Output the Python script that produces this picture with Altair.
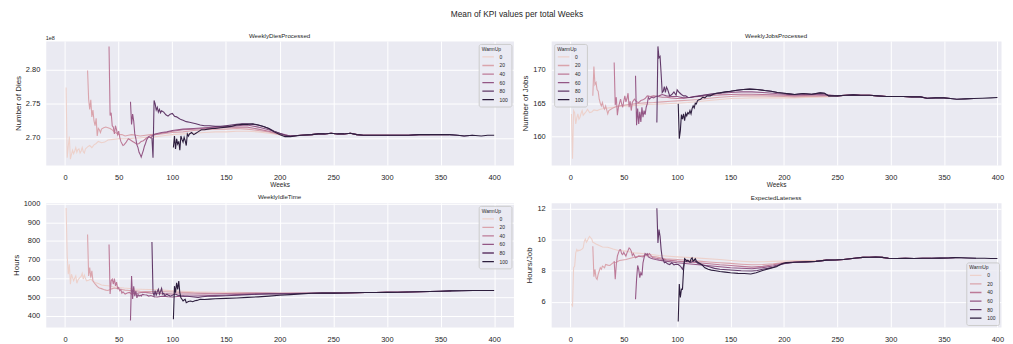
import altair as alt
import pandas as pd

WARMUPS = [0, 20, 40, 60, 80, 100]
PALETTE = ["#edd1cb", "#daa4ac", "#bd7a98", "#935685", "#613969", "#2d1e3e"]
X_TICKS = [0, 50, 100, 150, 200, 250, 300, 350, 400]
RUN_LENGTH = 300  # weeks observed after the warm-up

# ---------------- WeeklyDiesProcessed (x 1e8) ----------------
DIES_W0 = [(1,2.774),(2,2.671),(3,2.688),(4,2.702),(5,2.669),(6,2.676),(7,2.682),(8,2.677),(9,2.681),(10,2.686),
           (11,2.679),(12,2.683),(13,2.684),(14,2.678),(15,2.681),(16,2.686),(17,2.680),(18,2.678),(19,2.684),(21,2.687),
           (23,2.689),(25,2.686),(27,2.690),(29,2.692),(31,2.695),(34,2.693),(37,2.694),(40,2.697),(45,2.698),(50,2.699),
           (55,2.699),(60,2.699),(65,2.700),(70,2.700),(75,2.701),(80,2.701),(85,2.702),(90,2.703),(95,2.704),(100,2.705),
           (110,2.706),(120,2.707),(130,2.708),(140,2.709),(150,2.709),(160,2.710),(170,2.710),(180,2.709),(190,2.707),
           (200,2.705),(210,2.703),(220,2.704)]
DIES_W20 = [(21,2.799),(22,2.757),(23,2.742),(24,2.756),(25,2.731),(26,2.741),(27,2.725),(28,2.718),(29,2.729),(30,2.703),
            (31,2.714),(32,2.712),(33,2.708),(34,2.713),(36,2.715),(38,2.716),(40,2.715),(42,2.714),(44,2.712),(46,2.709),
            (48,2.707),(50,2.705),(53,2.705),(56,2.703),(59,2.704),(62,2.705),(66,2.704),(70,2.703),(75,2.704),(80,2.705),
            (90,2.706),(100,2.708),(110,2.709),(120,2.711),(130,2.712),(140,2.713),(150,2.713),(160,2.714),(170,2.713),
            (180,2.711),(190,2.709),(200,2.705),(210,2.703),(220,2.704)]
DIES_W40 = [(41,2.834),(42,2.733),(43,2.737),(44,2.718),(45,2.716),(46,2.706),(47,2.718),(48,2.712),(49,2.705),(50,2.710),
            (51,2.701),(52,2.695),(53,2.692),(54,2.689),(55,2.690),(57,2.694),(59,2.699),(61,2.697),(63,2.695),(65,2.693),
            (67,2.691),(69,2.692),(71,2.695),(73,2.696),(76,2.700),(79,2.703),(84,2.705),(90,2.707),(100,2.710),(110,2.712),
            (120,2.713),(130,2.714),(140,2.715),(150,2.716),(160,2.716),(170,2.716),(180,2.713),(190,2.710),(200,2.706),
            (210,2.703),(220,2.704)]
DIES_W60 = [(61,2.753),(62,2.720),(63,2.735),(64,2.725),(65,2.706),(66,2.699),(67,2.690),(68,2.686),(69,2.679),(70,2.676),
            (71,2.672),(72,2.677),(73,2.682),(74,2.688),(75,2.692),(76,2.697),(78,2.702),(80,2.700),(82,2.704),(84,2.706),
            (87,2.707),(90,2.708),(95,2.709),(100,2.711),(110,2.713),(120,2.714),(130,2.715),(140,2.716),(150,2.717),
            (160,2.718),(170,2.719),(180,2.716),(190,2.712),(200,2.707),(210,2.703),(220,2.704)]
DIES_W80 = [(81,2.700),(82,2.671),(83,2.755),(84,2.750),(85,2.741),(86,2.745),(87,2.738),(88,2.742),(89,2.737),(90,2.740),
            (92,2.738),(94,2.734),(96,2.732),(98,2.735),(100,2.736),(102,2.732),(104,2.731),(106,2.729),(108,2.727),(110,2.726),
            (113,2.724),(116,2.723),(119,2.722),(122,2.721),(126,2.719),(130,2.718),(135,2.718),(140,2.717),(145,2.717),
            (150,2.718),(155,2.719),(160,2.720),(165,2.721),(170,2.721),(175,2.720),(180,2.719),(185,2.717),(190,2.714),
            (195,2.710),(200,2.707),(205,2.704),(210,2.703),(220,2.704)]
DIES_W100 = [(101,2.686),(102,2.703),(103,2.684),(104,2.699),(105,2.691),(106,2.695),(107,2.682),(108,2.703),(109,2.698),
             (110,2.694),(111,2.701),(112,2.696),(113,2.689),(114,2.706),(115,2.703),(116,2.706),(118,2.708),(120,2.705),
             (122,2.707),(124,2.709),(127,2.712),(130,2.712),(133,2.713),(137,2.714),(140,2.714),(145,2.715),(150,2.716),
             (155,2.717),(160,2.719),(165,2.720),(170,2.720),(175,2.721),(180,2.719),(185,2.717),(190,2.714),(195,2.709),
             (200,2.705),(205,2.702),(210,2.702),(220,2.704)]
DIES_TAIL = [(230,2.705),(236,2.706),(242,2.706),(248,2.707),(254,2.706),(260,2.706),(266,2.707),(272,2.705),(278,2.704),
             (286,2.704),(294,2.704),(300,2.704),(310,2.704),(320,2.704),(330,2.705),(340,2.705),(350,2.705),(358,2.705),
             (366,2.704),(372,2.703),(380,2.704),(388,2.703),(394,2.704),(400,2.704)]

# ---------------- WeeklyJobsProcessed ----------------
JOBS_W0 = [(1,163.4),(2,156.7),(3,163.9),(4,163.6),(5,161.9),(6,162.8),(7,163.4),(8,162.6),(9,162.9),(10,163.5),
           (11,163.9),(12,163.2),(13,163.4),(15,163.8),(16,164.1),(18,163.6),(20,163.7),(22,164.0),(25,163.9),(28,164.1),
           (32,164.2),(36,164.3),(40,164.4),(45,164.5),(50,164.6),(56,164.6),(63,164.7),(70,164.8),(78,164.85),(86,164.9),
           (94,164.95),(100,165.0),(110,165.1),(120,165.25),(130,165.4),(140,165.55),(150,165.7),(160,165.75),(170,165.8),
           (180,165.8),(190,165.8),(200,165.8),(210,165.8),(220,165.85),(230,165.9),(240,165.95)]
JOBS_W20 = [(21,166.1),(22,170.5),(23,167.8),(24,168.1),(25,167.0),(26,166.8),(27,165.6),(28,165.0),(29,164.6),(30,165.1),
            (31,164.4),(32,164.1),(33,164.6),(34,164.0),(35,163.4),(36,163.9),(38,164.1),(40,164.3),(43,164.5),(46,164.6),
            (50,164.7),(55,164.8),(60,164.9),(65,165.0),(70,165.05),(78,165.1),(86,165.2),(94,165.3),(100,165.35),(110,165.45),
            (120,165.55),(130,165.75),(140,165.9),(150,166.0),(160,166.1),(170,166.1),(180,166.1),(190,166.05),(200,166.0),
            (210,165.95),(220,166.0),(230,166.0),(240,166.05)]
JOBS_W40 = [(41,171.1),(42,164.7),(43,165.9),(44,163.2),(45,164.4),(46,165.0),(47,165.6),(48,164.9),(49,164.4),(50,165.3),
            (51,166.1),(52,165.2),(53,165.7),(54,166.5),(55,164.4),(56,165.3),(57,163.9),(58,165.1),(59,165.4),(60,165.6),
            (62,165.2),(64,165.1),(66,165.4),(68,165.5),(70,165.7),(72,166.1),(75,166.0),(78,166.1),(82,166.0),(86,165.9),
            (90,165.9),(94,165.8),(100,165.7),(106,165.75),(112,165.85),(120,166.0),(130,166.15),(140,166.25),(150,166.3),
            (160,166.35),(170,166.35),(180,166.3),(190,166.25),(200,166.2),(210,166.1),(220,166.15),(230,166.2),(240,166.2)]
JOBS_W60 = [(61,169.1),(62,161.7),(63,164.2),(64,161.9),(65,163.7),(66,162.2),(67,164.4),(68,162.9),(69,163.9),(70,163.3),
            (71,164.4),(72,164.9),(73,165.9),(74,165.6),(76,165.9),(78,165.8),(80,166.0),(83,166.1),(86,166.3),(90,166.1),
            (95,166.0),(100,166.0),(106,165.8),(112,165.9),(120,166.1),(130,166.3),(140,166.5),(150,166.6),(160,166.7),
            (170,166.7),(180,166.6),(190,166.5),(200,166.35),(210,166.25),(220,166.3),(230,166.3),(240,166.25)]
JOBS_W80 = [(81,162.1),(82,173.5),(83,171.8),(84,172.0),(85,169.4),(86,166.6),(87,166.8),(88,167.5),(89,166.6),(90,167.4),
            (91,167.1),(92,166.6),(93,166.1),(95,166.3),(97,166.7),(99,166.2),(100,167.0),(102,166.6),(104,166.3),(106,166.1),
            (108,166.1),(110,165.9),(113,165.85),(116,166.0),(119,166.0),(122,166.1),(125,166.2),(130,166.35),(137,166.5),
            (144,166.65),(150,166.8),(156,166.95),(162,167.05),(168,167.1),(175,167.05),(182,166.9),(188,166.8),(194,166.6),
            (200,166.5),(205,166.4),(210,166.3),(218,166.45),(226,166.35),(234,166.55),(238,166.5),(242,166.1),(246,166.1)]
JOBS_W100 = [(101,164.9),(102,159.7),(103,160.9),(104,163.3),(105,162.6),(106,163.4),(107,162.4),(108,163.5),(109,163.1),
             (110,163.6),(111,163.4),(112,163.9),(113,163.4),(114,164.2),(115,164.6),(116,164.3),(117,165.0),(118,164.9),
             (119,165.35),(120,165.5),(122,165.6),(124,165.9),(126,165.8),(128,166.1),(131,166.1),(134,166.35),(137,166.5),
             (140,166.55),(145,166.7),(150,166.8),(156,166.95),(162,167.05),(168,167.1),(175,167.05),(182,166.9),(188,166.8),
             (194,166.6),(200,166.5),(205,166.4),(210,166.3),(218,166.45),(226,166.35),(234,166.55),(238,166.5),(242,166.1),
             (246,166.1)]
JOBS_TAIL = [(250,166.1),(258,166.2),(265,166.25),(272,166.2),(280,166.2),(288,166.1),(296,166.0),(304,166.0),(312,166.0),
             (320,165.95),(328,165.95),(334,165.75),(342,165.8),(350,165.8),(356,165.7),(362,165.6),(370,165.65),(378,165.7),
             (386,165.75),(394,165.8),(400,165.85)]

# ---------------- WeeklyIdleTime ----------------
IDLE_W0 = [(1,976),(2,719),(3,622),(4,675),(5,569),(6,622),(7,604),(8,587),(9,600),(10,613),(11,574),(12,590),(13,599),
           (14,605),(15,610),(16,627),(17,596),(18,617),(19,600),(20,587),(22,590),(24,596),(26,585),(28,578),(31,572),
           (34,564),(37,562),(40,560),(45,555),(50,551),(55,548),(60,546),(65,543),(70,542),(78,540),(85,539),(92,537),
           (100,534),(110,531),(120,528),(130,527),(140,526),(150,525),(160,525),(170,524),(180,523),(190,522),(200,521),
           (210,521),(220,520)]
IDLE_W20 = [(21,834),(22,613),(23,658),(24,604),(25,640),(26,587),(27,578),(28,570),(29,564),(30,557),(31,552),(32,548),
            (34,545),(36,540),(38,537),(40,535),(42,540),(44,545),(46,548),(48,546),(50,543),(53,540),(56,537),(60,535),
            (65,533),(70,531),(78,530),(86,529),(94,528),(100,527),(110,525),(120,523),(130,521),(140,520),(150,519),
            (160,519),(170,519),(180,519),(190,519),(200,519),(210,520),(220,520)]
IDLE_W40 = [(41,781),(42,516),(43,587),(44,596),(45,569),(46,599),(47,560),(48,580),(49,546),(50,551),(51,534),(52,540),
            (53,521),(54,528),(56,516),(58,522),(60,525),(62,516),(65,520),(68,521),(71,524),(75,525),(80,521),(85,519),
            (90,518),(95,517),(100,516),(110,516),(120,516),(130,517),(140,518),(150,519),(160,520),(170,521),(180,521),
            (190,521),(200,520),(210,520),(220,520)]
IDLE_W60 = [(61,374),(62,613),(63,490),(64,558),(65,505),(66,532),(67,496),(68,514),(69,505),(70,510),(71,505),(72,514),
            (74,512),(76,511),(78,505),(80,508),(83,502),(86,500),(89,503),(92,505),(96,502),(100,500),(105,503),(110,505),
            (120,506),(130,507),(140,509),(150,511),(160,513),(170,515),(180,517),(190,518),(200,518),(210,519),(220,520)]
IDLE_W80 = [(81,794),(82,525),(83,507),(84,534),(85,507),(86,530),(87,542),(88,516),(89,530),(90,546),(91,516),(92,520),
            (93,507),(95,515),(96,511),(98,505),(99,507),(101,512),(103,516),(105,510),(108,507),(111,505),(114,504),
            (118,502),(124,498),(128,502),(133,504),(140,505),(150,507),(160,510),(170,513),(180,515),(190,517),(200,517),
            (210,518),(220,519)]
IDLE_W100 = [(101,381),(102,558),(103,523),(104,576),(105,541),(106,585),(107,523),(108,496),(109,488),(110,479),(111,484),
             (112,488),(113,470),(115,476),(117,479),(119,475),(121,480),(123,482),(126,488),(130,487),(135,489),(140,491),
             (150,493),(160,495),(170,498),(180,501),(190,505),(200,510),(210,513),(220,517)]
IDLE_TAIL = [(230,520),(240,521),(250,521),(260,522),(270,523),(280,524),(290,524),(300,525),(310,526),(320,527),
             (330,528),(340,530),(350,531),(360,533),(370,534),(380,535),(390,535),(400,535)]

# ---------------- ExpectedLateness ----------------
LATE_W0 = [(1,5.85),(2,5.74),(3,8.19),(4,8.30),(5,9.15),(6,9.36),(7,9.26),(8,9.32),(9,9.30),(10,9.36),(11,9.40),(12,9.47),
           (13,9.89),(14,10.04),(15,9.83),(16,9.95),(17,10.10),(18,10.20),(19,10.12),(20,10.04),(21,9.83),(22,9.80),
           (24,9.72),(27,9.62),(30,9.53),(35,9.51),(40,9.40),(45,9.30),(52,9.26),(60,9.15),(70,9.09),(83,8.98),(100,8.89),
           (120,8.81),(140,8.72),(150,8.66),(160,8.61),(170,8.57),(180,8.58),(190,8.60),(200,8.62),(210,8.65),(220,8.65),
           (230,8.66)]
LATE_W20 = [(21,9.57),(22,7.62),(23,8.09),(24,7.55),(25,7.45),(26,7.77),(27,7.98),(28,8.19),(29,8.09),(30,8.30),(31,8.25),
            (32,8.19),(33,8.40),(35,8.36),(37,8.34),(40,8.51),(43,8.55),(46,8.66),(52,8.72),(58,8.83),(64,8.94),(70,8.98),
            (75,8.93),(80,8.89),(89,8.77),(100,8.72),(110,8.67),(120,8.62),(130,8.56),(140,8.51),(150,8.47),(160,8.42),
            (170,8.38),(180,8.40),(190,8.45),(200,8.52),(210,8.58),(220,8.60),(230,8.62)]
LATE_W40 = [(41,8.62),(42,7.45),(43,8.40),(44,8.94),(45,9.15),(46,9.34),(47,9.36),(48,9.10),(49,9.04),(50,9.19),(51,9.05),
            (52,8.94),(53,9.15),(54,9.30),(55,9.47),(56,9.40),(57,9.26),(58,8.98),(59,9.10),(61,8.83),(63,8.90),(64,8.94),
            (66,8.91),(68,8.89),(70,9.04),(72,8.98),(74,9.10),(77,8.85),(80,8.80),(83,8.77),(90,8.70),(100,8.62),(110,8.56),
            (120,8.51),(130,8.45),(140,8.38),(150,8.34),(160,8.28),(170,8.23),(180,8.28),(190,8.38),(200,8.50),(210,8.56),
            (220,8.58),(230,8.60)]
LATE_W60 = [(61,6.17),(62,7.45),(63,8.34),(64,8.09),(65,7.55),(66,7.87),(67,7.70),(68,8.51),(69,8.83),(70,9.11),(71,9.04),
            (72,9.10),(73,8.89),(75,8.82),(77,8.77),(80,8.72),(83,8.68),(89,8.62),(95,8.56),(100,8.51),(110,8.45),(120,8.38),
            (130,8.32),(140,8.26),(150,8.19),(160,8.16),(170,8.13),(180,8.20),(190,8.30),(200,8.46),(210,8.54),(220,8.57),
            (230,8.60)]
LATE_W80 = [(81,12.02),(82,9.79),(83,10.64),(84,10.21),(85,9.36),(86,8.83),(87,8.72),(88,8.51),(89,8.55),(91,8.45),
            (93,8.40),(95,8.51),(97,8.38),(99,8.42),(101,8.40),(103,8.30),(105,8.10),(106,8.30),(107,8.68),(108,8.60),
            (110,8.62),(113,8.55),(116,8.65),(120,8.45),(125,8.35),(130,8.25),(135,8.15),(140,8.10),(150,8.05),(160,8.00),
            (170,7.98),(175,8.02),(180,8.10),(185,8.15),(190,8.22),(195,8.35),(200,8.45),(210,8.54),(220,8.57),(230,8.60)]
LATE_W100 = [(101,4.74),(102,7.15),(103,6.28),(104,6.82),(105,6.80),(106,8.05),(107,8.78),(108,8.72),(109,8.62),(110,8.68),
             (111,8.60),(112,8.55),(113,8.75),(114,8.83),(115,8.62),(116,8.70),(117,8.77),(118,8.62),(120,8.51),(123,8.40),
             (126,8.19),(129,8.09),(132,8.04),(136,8.00),(140,7.95),(145,7.91),(150,7.87),(157,7.83),(163,7.82),(169,7.79),
             (174,7.87),(180,8.02),(187,8.15),(193,8.26),(198,8.45),(202,8.52),(210,8.54),(220,8.57),(230,8.60)]
LATE_TAIL = [(240,8.68),(248,8.69),(256,8.72),(262,8.77),(268,8.82),(274,8.86),(280,8.87),(286,8.88),(292,8.86),(298,8.80),
             (306,8.79),(314,8.80),(322,8.79),(330,8.80),(338,8.80),(346,8.81),(354,8.82),(360,8.84),(366,8.83),(372,8.82),
             (380,8.80),(388,8.80),(394,8.79),(400,8.79)]

TEXT = "#262626"
FONT = "Liberation Sans"
LEFT_W, RIGHT_W = 471, 453
LEFT_XDOM, RIGHT_XDOM = [-18, 418], [-18, 403.4]


def build(series, tail):
    rows = []
    for w, pts in zip(WARMUPS, series):
        last = pts[-1][0]
        full = list(pts) + [p for p in tail if last < p[0] <= w + RUN_LENGTH]
        for x, y in full:
            rows.append({"Weeks": x, "value": y, "WarmUp": w})
    return pd.DataFrame(rows)


def panel(df, title, ytitle, ydomain, yticks, yfmt, legend_orient, width, xdom, title_offset, extra=None):
    legend = alt.Legend(
        title="WarmUp", orient=legend_orient, offset=2.5, padding=3,
        titleFontSize=5, labelFontSize=5, titleFontWeight="normal", titleColor=TEXT, labelColor=TEXT,
        titleFont=FONT, labelFont=FONT, titlePadding=2,
        symbolType="stroke", symbolStrokeWidth=1.3, symbolSize=135, clipHeight=6.2, rowPadding=1.6,
        labelOffset=5, fillColor="rgba(234,234,242,0.8)", strokeColor="#cccccc", cornerRadius=2,
    )
    lines = alt.Chart(df).mark_line(strokeWidth=1.1, clip=True).encode(
        x=alt.X("Weeks:Q", scale=alt.Scale(domain=xdom, nice=False, zero=False),
                axis=alt.Axis(values=X_TICKS, title="Weeks", titleFontSize=6.5, labelPadding=8.2,
                              titlePadding=0.5, labelFlush=False)),
        y=alt.Y("value:Q", scale=alt.Scale(domain=ydomain, nice=False, zero=False),
                axis=alt.Axis(values=yticks, title=ytitle, format=yfmt, titleFontSize=8,
                              labelPadding=6, titlePadding=3)),
        color=alt.Color("WarmUp:O", scale=alt.Scale(domain=WARMUPS, range=PALETTE), legend=legend),
    )
    anchor = alt.Chart(pd.DataFrame({"t": ["."]})).mark_text(
        opacity=0, fontSize=5, align="left", baseline="middle"
    ).encode(x=alt.value(-34.6), y=alt.value(60), text="t:N")
    layers = [lines, anchor]
    if extra is not None:
        layers.append(extra)
    return alt.layer(*layers).properties(
        width=width, height=125,
        title=alt.TitleParams(title, fontSize=6.2, fontWeight="normal", color=TEXT, font=FONT,
                              offset=title_offset),
    )


offset_text = alt.Chart(pd.DataFrame({"t": ["1e8"]})).mark_text(
    align="left", baseline="middle", fontSize=5.5, color=TEXT, font=FONT
).encode(x=alt.value(0), y=alt.value(-3.3), text="t:N")

tl = panel(build([DIES_W0, DIES_W20, DIES_W40, DIES_W60, DIES_W80, DIES_W100], DIES_TAIL),
           "WeeklyDiesProcessed", "Number of Dies", [2.6603, 2.8422], [2.70, 2.75, 2.80], ".2f",
           "top-right", LEFT_W, LEFT_XDOM, -4, extra=offset_text)
tr = panel(build([JOBS_W0, JOBS_W20, JOBS_W40, JOBS_W60, JOBS_W80, JOBS_W100], JOBS_TAIL),
           "WeeklyJobsProcessed", "Number of Jobs", [155.74, 174.31], [160, 165, 170], "d",
           "top-left", RIGHT_W, RIGHT_XDOM, 2)
bl = panel(build([IDLE_W0, IDLE_W20, IDLE_W40, IDLE_W60, IDLE_W80, IDLE_W100], IDLE_TAIL),
           "WeeklyIdleTime", "Hours", [340, 1003.7], [400, 500, 600, 700, 800, 900, 1000], "d",
           "top-right", LEFT_W, LEFT_XDOM, -1)
br = panel(build([LATE_W0, LATE_W20, LATE_W40, LATE_W60, LATE_W80, LATE_W100], LATE_TAIL),
           "ExpectedLateness", "Hours/Job", [4.385, 12.364], [6, 8, 10, 12], "d",
           "bottom-right", RIGHT_W, RIGHT_XDOM, 2)

row1 = alt.hconcat(tl, tr, spacing=1).resolve_scale(color="independent", x="independent", y="independent")
row2 = alt.hconcat(bl, br, spacing=1).resolve_scale(color="independent", x="independent", y="independent")

chart = alt.vconcat(row1, row2, spacing=4).resolve_scale(
    color="independent", x="independent", y="independent"
).properties(
    title=alt.TitleParams("Mean of KPI values per total Weeks", fontSize=8.4, fontWeight="normal",
                          anchor="middle", color=TEXT, font=FONT, offset=14.5, dx=9.5),
    padding={"left": 2, "top": 0, "right": 0, "bottom": 0},
    background="white",
).configure_view(
    fill="#EAEAF2", stroke="transparent"
).configure_axis(
    grid=True, gridColor="white", gridWidth=1, domain=False, ticks=False,
    labelFont=FONT, titleFont=FONT, labelFontSize=7.5, labelColor=TEXT, titleColor=TEXT,
    titleFontWeight="normal",
)

chart.save("out.html", embed_options={"renderer": "svg", "actions": False})
